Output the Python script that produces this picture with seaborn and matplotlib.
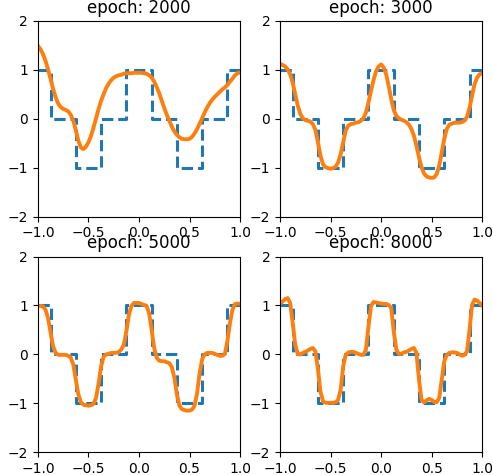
import numpy as np
import pandas as pd
import matplotlib
matplotlib.use('Agg')
import matplotlib.pyplot as plt
import seaborn as sns

# target step function (edges and levels)
step_x = [-1.0, -0.875, -0.625, -0.375, -0.125, 0.125, 0.375, 0.625, 0.875, 1.0]
step_y = [1, 0, -1, 0, 1, 0, -1, 0, 1, 1]

xs = [round(-1 + 0.025 * i, 3) for i in range(81)]

fit_2000 = [1.49, 1.42, 1.32, 1.18, 1.01, 0.81, 0.61, 0.44, 0.31, 0.24,
            0.20, 0.18, 0.15, 0.08, -0.04, -0.24, -0.45, -0.59, -0.62, -0.57,
            -0.48, -0.35, -0.18, 0.01, 0.20, 0.37, 0.50, 0.63, 0.72, 0.79,
            0.84, 0.87, 0.89, 0.90, 0.92, 0.93, 0.93, 0.93, 0.94, 0.94,
            0.94, 0.94, 0.93, 0.92, 0.89, 0.84, 0.76, 0.65, 0.52, 0.37,
            0.22, 0.08, -0.04, -0.16, -0.26, -0.33, -0.38, -0.41, -0.42, -0.42,
            -0.41, -0.37, -0.30, -0.21, -0.10, 0.01, 0.13, 0.23, 0.32, 0.39,
            0.45, 0.50, 0.55, 0.60, 0.64, 0.69, 0.76, 0.82, 0.89, 0.93, 0.95]
fit_3000 = [1.12, 1.10, 1.07, 1.01, 0.91, 0.74, 0.50, 0.27, 0.10, 0.01,
            -0.03, -0.04, -0.06, -0.11, -0.23, -0.48, -0.76, -0.93, -0.99, -1.01,
            -1.02, -1.01, -0.98, -0.89, -0.72, -0.48, -0.24, -0.14, -0.11, -0.10,
            -0.08, -0.07, -0.04, 0.01, 0.13, 0.33, 0.57, 0.79, 0.97, 1.07,
            1.11, 1.05, 0.91, 0.67, 0.40, 0.18, 0.06, 0.01, -0.02, -0.04,
            -0.07, -0.12, -0.21, -0.35, -0.55, -0.79, -0.99, -1.12, -1.18, -1.20,
            -1.21, -1.20, -1.13, -0.96, -0.69, -0.41, -0.21, -0.12, -0.10, -0.08,
            -0.08, -0.08, -0.07, -0.04, 0.04, 0.22, 0.47, 0.71, 0.84, 0.91, 0.93]
fit_5000 = [0.99, 0.99, 0.98, 0.91, 0.74, 0.44, 0.16, 0.03, -0.01, -0.01,
            -0.01, -0.01, -0.03, -0.07, -0.21, -0.52, -0.82, -0.98, -1.03, -1.04,
            -1.05, -1.04, -1.01, -0.89, -0.59, -0.24, -0.05, 0.00, 0.01, 0.03,
            0.03, 0.03, 0.05, 0.10, 0.20, 0.47, 0.81, 0.99, 1.05, 1.05,
            1.05, 1.03, 1.01, 0.99, 0.84, 0.50, 0.13, -0.07, -0.13, -0.14,
            -0.14, -0.16, -0.18, -0.26, -0.48, -0.82, -1.05, -1.12, -1.14, -1.15,
            -1.15, -1.13, -1.05, -0.79, -0.38, -0.10, 0.00, 0.03, 0.03, 0.03,
            0.01, -0.01, -0.03, -0.03, 0.01, 0.27, 0.64, 0.91, 1.03, 1.04, 1.03]
fit_8000 = [1.03, 1.08, 1.13, 1.15, 1.05, 0.64, 0.20, 0.01, 0.00, 0.03,
            0.05, 0.08, 0.11, 0.13, 0.06, -0.31, -0.76, -0.96, -0.99, -0.99,
            -0.99, -0.99, -0.98, -0.93, -0.72, -0.24, -0.01, 0.04, 0.05, 0.05,
            0.03, 0.01, -0.01, -0.01, 0.10, 0.57, 0.99, 1.07, 1.06, 1.05,
            1.04, 1.03, 1.03, 1.01, 0.95, 0.47, 0.10, 0.01, 0.01, 0.04,
            0.05, 0.08, 0.11, 0.13, 0.03, -0.52, -0.93, -0.98, -0.94, -0.91,
            -0.93, -0.97, -0.98, -0.89, -0.52, -0.14, -0.01, 0.03, 0.04, 0.04,
            0.03, 0.00, -0.03, -0.01, 0.06, 0.50, 1.01, 1.12, 1.10, 1.05, 1.00]

epochs = [2000, 3000, 5000, 8000]
fits = [fit_2000, fit_3000, fit_5000, fit_8000]

fig, axes = plt.subplots(2, 2, figsize=(4.93, 4.75), dpi=100)
fig.subplots_adjust(left=0.077, right=0.978, top=0.956, bottom=0.048,
                    wspace=0.198, hspace=0.204)

for ax, epoch, fit in zip(axes.flat, epochs, fits):
    sns.lineplot(x=step_x, y=step_y, ax=ax, drawstyle='steps-post',
                 color='#1f77b4', linestyle='--', linewidth=2.2)
    sns.lineplot(x=xs, y=fit, ax=ax, color='#ff7f0e', linewidth=2.8)
    ax.set_xlim(-1, 1)
    ax.set_ylim(-2, 2)
    ax.set_xticks([-1.0, -0.5, 0.0, 0.5, 1.0])
    ax.set_yticks([-2, -1, 0, 1, 2])
    ax.set_title(f'epoch: {epoch}')

plt.savefig('out.png', dpi=100)
plt.close()
